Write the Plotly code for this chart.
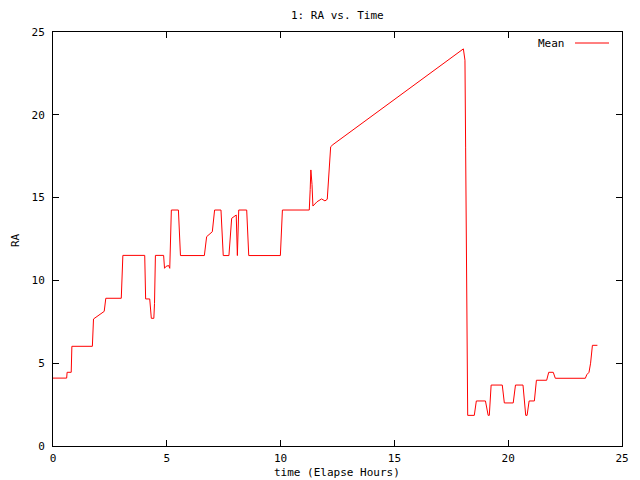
import plotly.graph_objects as go

time_h = [0, 0.6, 0.62, 0.8, 0.83, 1.73, 1.78, 2.25, 2.32, 3.0, 3.07, 4.03, 4.07, 4.25,
          4.32, 4.43, 4.46, 4.5, 4.86, 4.9, 4.97, 5.08, 5.13, 5.2, 5.51, 5.6, 6.65, 6.75,
          7.0, 7.1, 7.38, 7.48, 7.73, 7.85, 8.05, 8.1, 8.16, 8.51, 8.6, 9.99, 10.08, 11.26,
          11.3, 11.33, 11.38, 11.42, 11.6, 11.8, 11.95, 12.05, 12.2, 12.3, 18.03, 18.1,
          18.13, 18.17, 18.22, 18.51, 18.6, 19.0, 19.06, 19.12, 19.17, 19.25, 19.74, 19.83,
          20.22, 20.32, 20.65, 20.77, 20.83, 20.92, 21.15, 21.24, 21.69, 21.78, 21.98, 22.07,
          23.39, 23.45, 23.55, 23.62, 23.7, 23.92]
ra_mean = [4.1, 4.1, 4.45, 4.45, 6.02, 6.02, 7.67, 8.13, 8.92, 8.92, 11.51, 11.51, 8.88, 8.88,
           7.71, 7.71, 8.6, 11.51, 11.51, 10.73, 10.85, 10.9, 10.73, 14.25, 14.25, 11.5, 11.5, 12.64,
           12.94, 14.25, 14.25, 11.5, 11.5, 13.75, 13.95, 11.5, 14.25, 14.25, 11.5, 11.5, 14.25, 14.25,
           15.5, 16.67, 15.8, 14.49, 14.75, 14.92, 14.8, 14.9, 18.07, 18.2, 23.98, 23.3,
           18.0, 7.9, 1.85, 1.85, 2.72, 2.72, 2.23, 1.85, 1.85, 3.68, 3.68, 2.6,
           2.6, 3.68, 3.68, 1.85, 1.85, 2.72, 2.72, 3.97, 3.97, 4.45, 4.45, 4.09,
           4.09, 4.3, 4.45, 5.0, 6.08, 6.08]

x_ticks = [0, 5, 10, 15, 20, 25]
y_ticks = [0, 5, 10, 15, 20, 25]

FONT = "DejaVu Sans Mono"

fig = go.Figure()
fig.add_trace(go.Scatter(x=time_h, y=ra_mean, mode="lines", name="Mean",
                         line=dict(color="#ff0000", width=1), showlegend=False))

axis_common = dict(showline=True, mirror="ticks", linecolor="black", linewidth=1,
                   ticks="inside", ticklen=6, tickcolor="black", tickwidth=1,
                   showgrid=False, zeroline=False,
                   tickfont=dict(family=FONT, size=11, color="black"))

# page body has an 8px margin, so the figure is sized/offset to compensate
fig.update_layout(
    width=632, height=472,
    margin=dict(l=45, r=18, t=24, b=34, autoexpand=False),
    paper_bgcolor="white", plot_bgcolor="white",
    font=dict(family=FONT, size=11, color="black"),
    xaxis=dict(range=[0, 25], tickvals=x_ticks, ticklabelstandoff=2, **axis_common),
    yaxis=dict(range=[0, 25], tickvals=y_ticks, ticklabelstandoff=5, **axis_common),
)

H = 414.0
W = 569.0
fig.add_annotation(text="1: RA vs. Time", xref="paper", yref="paper",
                   x=(337 - 53) / W, y=1 + (32 - 15) / H, showarrow=False,
                   font=dict(family=FONT, size=11), xanchor="center", yanchor="middle")
fig.add_annotation(text="time (Elapse Hours)", xref="paper", yref="paper",
                   x=(337 - 53) / W, y=-(472 - 446) / H, showarrow=False,
                   font=dict(family=FONT, size=11), xanchor="center", yanchor="middle")
fig.add_annotation(text="RA", xref="paper", yref="paper",
                   x=(15 - 53) / W, y=(446 - 240) / H, showarrow=False, textangle=-90,
                   font=dict(family=FONT, size=11), xanchor="center", yanchor="middle")
# legend (gnuplot style: text then line sample)
fig.add_annotation(text="Mean", xref="paper", yref="paper",
                   x=(567 - 53) / W, y=(446 - 43) / H, showarrow=False,
                   font=dict(family=FONT, size=11), xanchor="right", yanchor="middle")
fig.add_shape(type="line", xref="paper", yref="paper",
              x0=(575 - 53) / W, x1=(609 - 53) / W, y0=(446 - 43) / H, y1=(446 - 43) / H,
              line=dict(color="#ff0000", width=1))

fig.write_html("out.html")
